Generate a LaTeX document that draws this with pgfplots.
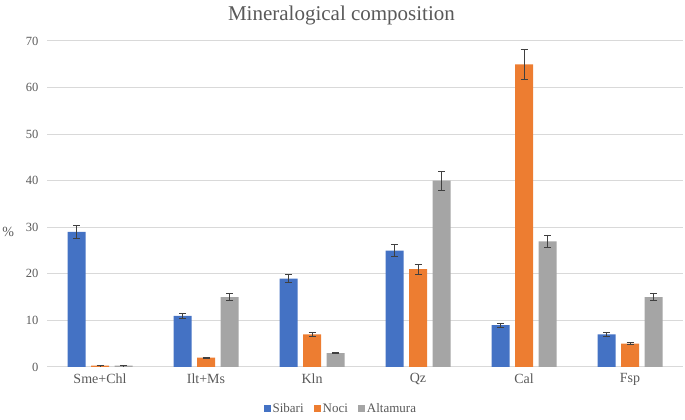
\documentclass[border=0pt]{standalone}
\usepackage{fontspec}
\setmainfont{Liberation Serif}
\usepackage{pgfplots}
\pgfplotsset{compat=1.18}
\definecolor{cblue}{HTML}{4472C4}
\definecolor{corange}{HTML}{ED7D31}
\definecolor{cgrey}{HTML}{A5A5A5}
\definecolor{txt}{HTML}{595959}
\definecolor{gridc}{HTML}{D9D9D9}
\definecolor{errc}{HTML}{404040}
\begin{document}
\begin{tikzpicture}[x=1pt,y=1pt]
\useasboundingbox (0,0) rectangle (685,420);
\begin{axis}[
  at={(47pt,53pt)}, anchor=south west,
  scale only axis, width=636pt, height=326pt,
  ybar=5.5pt, bar width=18pt,
  xmin=-0.5, xmax=5.5, ymin=0, ymax=70,
  ytick={0,10,...,70},
  xtick={0,1,2,3,4,5},
  xticklabels={Sme+Chl,Ilt+Ms,Kln,Qz,Cal,Fsp},
  /pgf/number format/assume math mode=true,
  axis line style={draw=none},
  major tick length=0pt,
  ymajorgrids, grid style={gridc, line width=1pt},
  yticklabel style={font=\fontsize{12.5}{14}\selectfont, text=txt, xshift=-5pt},
  xticklabel style={font=\fontsize{14}{16}\selectfont, text=txt, yshift=-3pt},
  ylabel={\%}, ylabel style={rotate=-90, at={(axis description cs:-0.061,0.414)}, anchor=center, font=\fontsize{14}{16}\selectfont, text=txt},
  title={Mineralogical composition},
  title style={at={(axis description cs:0.463,1.045)}, anchor=base, font=\fontsize{21}{24}\selectfont, text=txt},
  legend style={at={(axis description cs:0.462,-0.128)}, anchor=center, draw=none, legend columns=3, font=\fontsize{13}{15}\selectfont, text=txt, /tikz/every even column/.append style={column sep=8pt}},
  legend image code/.code={\fill[#1] (0pt,-3pt) rectangle (7pt,4pt);},
  error bars/y dir=both, error bars/y explicit,
  error bars/error bar style={errc, line width=0.8pt},
  error bars/error mark options={rotate=90, mark size=3.5pt, errc, line width=0.8pt},
]
\addplot[fill=cblue, draw=none] coordinates {(0,29) +- (0,1.4) (1,11) +- (0,0.55) (2,19) +- (0,0.9) (3,25) +- (0,1.25) (4,9) +- (0,0.45) (5,7) +- (0,0.35)};
\addplot[fill=corange, draw=none] coordinates {(0,0.3) +- (0,0.05) (1,2) +- (0,0.1) (2,7) +- (0,0.35) (3,21) +- (0,1.05) (4,65) +- (0,3.25) (5,5) +- (0,0.25)};
\addplot[fill=cgrey, draw=none] coordinates {(0,0.3) +- (0,0.05) (1,15) +- (0,0.75) (2,3) +- (0,0.15) (3,40) +- (0,2.0) (4,27) +- (0,1.35) (5,15) +- (0,0.75)};
\legend{Sibari,Noci,Altamura}
\end{axis}
\end{tikzpicture}
\end{document}
